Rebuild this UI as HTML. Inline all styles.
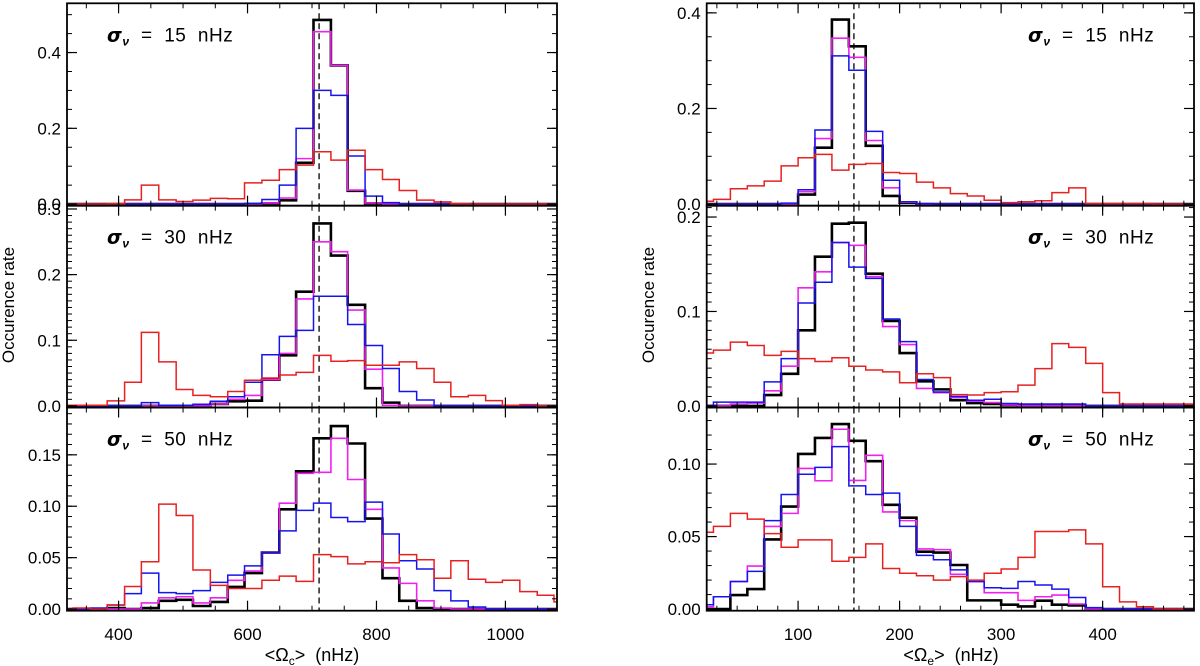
<!DOCTYPE html>
<html><head><meta charset="utf-8"><style>
body{margin:0;background:#fff;}
svg{display:block;font-family:"Liberation Sans",sans-serif;}
</style></head><body>
<svg id="fig" width="1200" height="666" viewBox="0 0 1200 666" xmlns="http://www.w3.org/2000/svg"></svg>
<script>
const leftCenters=[316,343,369,396,422,449,476,502,529,556,582,609,636,662,689,716,742,769,796,822,849,876,902,929,956,982,1009,1036,1062,1089];
const rightCenters=[8.3,25,41.7,58.3,75,91.7,108.3,125,141.7,158.3,175,191.7,208.3,225,241.7,258.3,275,291.7,308.3,325,341.7,358.3,375,391.7,408.3,425,441.7,458.3,475,491.7];
const leftBinWidth=26.67, rightBinWidth=16.67;
const leftRef=711, rightRef=155;
const leftXTicks=[400,600,800,1000];
const rightXTicks=[100,200,300,400];

const tlRed=[0,0,0,0.001,0.011,0.05,0.011,0.007,0.0105,0.015,0.014,0.056,0.063,0.091,0.103,0.138,0.116,0.142,0.091,0.065,0.036,0.0105,0.006,0.001,0,0,0,0,0,0];
const tlBlack=[0,0,0,0,0,0,0,0,0,0,0,0,0.002,0.01,0.109,0.486,0.366,0.035,0.002,0,0,0,0,0,0,0,0,0,0,0];
const tlMagenta=[0,0,0,0,0,0,0,0,0,0,0,0,0.003,0.016,0.12,0.455,0.366,0.037,0.003,0,0,0,0,0,0,0,0,0,0,0];
const tlBlue=[0,0,0,0,0,0,0,0,0,0,0,0.002,0.012,0.05,0.2,0.30,0.287,0.127,0.021,0.004,0,0,0,0,0,0,0,0,0,0];

const mlRed=[0.001,0.001,0.001,0.0076,0.036,0.112,0.067,0.025,0.016,0.014,0.022,0.039,0.0425,0.047,0.051,0.077,0.068,0.069,0.062,0.062,0.067,0.057,0.036,0.014,0.016,0.008,0.001,0.002,0,0];
const mlBlack=[0,0,0,0,0,0,0,0,0,0.003,0.007,0.008,0.04,0.077,0.174,0.278,0.229,0.154,0.027,0.005,0,0,0,0,0,0,0,0,0,0];
const mlMagenta=[0,0,0,0,0,0,0,0,0,0.003,0.01,0.016,0.04,0.08,0.163,0.25,0.235,0.146,0.056,0.001,0,0,0,0,0,0,0,0,0,0];
const mlBlue=[0,0,0,0,0,0.005,0.001,0.001,0.0025,0.007,0.014,0.036,0.078,0.106,0.115,0.167,0.167,0.124,0.092,0.057,0.022,0.009,0,0,0,0,0,0,0,0];

const blRed=[0,0.001,0,0.004,0.022,0.046,0.102,0.091,0.038,0.023,0.020,0.020,0.028,0.032,0.027,0.053,0.051,0.044,0.046,0.045,0.053,0.048,0.030,0.047,0.029,0.026,0.028,0.017,0.0135,0.007];
const blBlack=[0,0,0,0.001,0,0.001,0.008,0.009,0.003,0.007,0.0216,0.035,0.055,0.097,0.134,0.166,0.178,0.161,0.088,0.030,0.008,0.001,0,0,0,0,0,0,0,0];
const blMagenta=[0,0,0,0,0,0.006,0.011,0.012,0.006,0.011,0.028,0.037,0.055,0.103,0.132,0.133,0.166,0.126,0.097,0.040,0.025,0.008,0.001,0,0,0,0,0,0,0];
const blBlue=[0,0,0.001,0.004,0.015,0.035,0.016,0.015,0.018,0.026,0.033,0.042,0.055,0.076,0.096,0.103,0.089,0.085,0.104,0.073,0.047,0.039,0.018,0.008,0.002,0,0,0,0,0];

const trRed=[0.006,0.01,0.032,0.038,0.048,0.08,0.097,0.104,0.071,0.083,0.085,0.066,0.064,0.046,0.034,0.022,0.017,0.008,0.003,0.005,0.007,0.024,0.034,0.001,0.001,0.001,0.001,0,0,0];
const trBlack=[0,0,0,0,0,0,0.02,0.118,0.386,0.33,0.122,0.017,0.003,0,0,0,0,0,0,0,0,0,0,0,0,0,0,0,0,0];
const trMagenta=[0,0,0,0,0,0,0.026,0.137,0.347,0.307,0.133,0.034,0.004,0,0,0,0,0,0,0,0,0,0,0,0,0,0,0,0,0];
const trBlue=[0,0,0,0,0,0.002,0.03,0.155,0.31,0.28,0.152,0.05,0.005,0.001,0,0,0,0,0,0,0,0,0,0,0,0,0,0,0,0];

const mrRed=[0.056,0.059,0.0675,0.064,0.0535,0.0577,0.05,0.047,0.051,0.042,0.038,0.036,0.0245,0.034,0.030,0.012,0.0115,0.014,0.015,0.022,0.0395,0.066,0.062,0.045,0.014,0.002,0.002,0.002,0.002,0.002];
const mrBlack=[0,0,0,0,0.0115,0.034,0.08,0.158,0.193,0.194,0.14,0.09,0.056,0.026,0.0175,0.006,0.003,0.002,0.001,0,0,0,0,0,0,0,0,0,0,0];
const mrMagenta=[0,0,0.002,0.003,0.016,0.042,0.125,0.142,0.173,0.17,0.137,0.084,0.065,0.0185,0.014,0.009,0.005,0.0035,0.001,0,0,0,0,0,0,0,0,0,0,0];
const mrBlue=[0,0.004,0.004,0.004,0.0255,0.05,0.109,0.131,0.173,0.147,0.135,0.092,0.068,0.028,0.0147,0.01,0.006,0.007,0.0025,0.002,0.002,0.002,0.002,0,0,0,0,0,0,0];

const brRed=[0.053,0.057,0.066,0.062,0.052,0.0426,0.0477,0.0477,0.033,0.0357,0.045,0.028,0.0247,0.023,0.020,0.0224,0.020,0.0247,0.0276,0.0357,0.0535,0.0535,0.0546,0.045,0.0154,0.005,0.0016,0,0,0];
const brBlack=[0,0,0.0097,0.0138,0.048,0.0707,0.107,0.118,0.1276,0.116,0.102,0.0719,0.063,0.0396,0.039,0.0304,0.006,0.006,0.003,0.0018,0.0058,0.003,0.0025,0,0,0,0,0,0,0];
const brMagenta=[0.0016,0.0085,0.019,0.0297,0.057,0.066,0.097,0.0885,0.124,0.0887,0.106,0.067,0.061,0.0415,0.041,0.024,0.019,0.0113,0.0113,0.006,0.0085,0.0097,0.0035,0,0,0,0,0,0,0];
const brBlue=[0.003,0.0085,0.019,0.026,0.061,0.079,0.093,0.0977,0.112,0.085,0.079,0.080,0.057,0.037,0.034,0.027,0.019,0.0147,0.0143,0.019,0.0166,0.0138,0.008,0.001,0,0,0,0,0,0];

const tlYTicks=["0.0","0.2","0.4"], mlYTicks=["0.0","0.1","0.2","0.3"], blYTicks=["0.00","0.05","0.10","0.15"];
const trYTicks=["0.0","0.2","0.4"], mrYTicks=["0.0","0.1","0.2"], brYTicks=["0.00","0.05","0.10"];
const sigmaValues=["15","30","50"];

const NS="http://www.w3.org/2000/svg";
const svg=document.getElementById('fig');
function mk(tag,attrs,parent){const e=document.createElementNS(NS,tag);for(const k in attrs)e.setAttribute(k,attrs[k]);(parent||svg).appendChild(e);return e;}

const cols={x0:[67,706.7],x1:[557,1194],xmin:[320,10],xmax:[1080,490]};
const rows=[[3.3,205.7],[205.7,407.5],[407.5,610.7]];
const panels=[
 {c:0,r:0,ymax:0.53,minor:0.05,ticks:tlYTicks,s:[tlBlack,tlMagenta,tlBlue,tlRed],name:'top-left'},
 {c:0,r:1,ymax:0.305,minor:0.01,ticks:mlYTicks,s:[mlBlack,mlMagenta,mlBlue,mlRed],name:'middle-left'},
 {c:0,r:2,ymax:0.196,minor:0.01,ticks:blYTicks,s:[blBlack,blMagenta,blBlue,blRed],name:'bottom-left'},
 {c:1,r:0,ymax:0.42,minor:0.05,ticks:trYTicks,s:[trBlack,trMagenta,trBlue,trRed],name:'top-right'},
 {c:1,r:1,ymax:0.212,minor:0.01,ticks:mrYTicks,s:[mrBlack,mrMagenta,mrBlue,mrRed],name:'middle-right'},
 {c:1,r:2,ymax:0.139,minor:0.01,ticks:brYTicks,s:[brBlack,brMagenta,brBlue,brRed],name:'bottom-right'}
];
const seriesStyle=[{col:'#000',w:2.6,n:'black'},{col:'#f020f0',w:1.6,n:'magenta'},{col:'#1414f0',w:1.5,n:'blue'},{col:'#e82020',w:1.5,n:'red'}];

panels.forEach((p,pi)=>{
  const X0=cols.x0[p.c],X1=cols.x1[p.c],xmin=cols.xmin[p.c],xmax=cols.xmax[p.c];
  const Y0=rows[p.r][0],Y1=rows[p.r][1];
  const ymin=-p.ymax*0.008;
  const sx=v=>X0+(v-xmin)/(xmax-xmin)*(X1-X0);
  const sy=v=>Y1-(v-ymin)/(p.ymax-ymin)*(Y1-Y0);
  const g=mk('g',{});
  
  
  const cp=mk('clipPath',{id:'cp'+pi},g);
  mk('rect',{x:X0,y:Y0,width:X1-X0,height:Y1-Y0},cp);
  const centers=p.c===0?leftCenters:rightCenters, bw=p.c===0?leftBinWidth:rightBinWidth;
  const rx=sx(p.c===0?leftRef:rightRef);
  const dl=mk('line',{x1:rx,x2:rx,y1:Y0,y2:Y1,stroke:'#222','stroke-width':1.5,'stroke-dasharray':'6,4'},g);
  
  
  p.s.forEach((vals,si)=>{
    let d='';
    vals.forEach((v,i)=>{
      const xl=sx(centers[i]-bw/2),xr=sx(centers[i]+bw/2),y=sy(v);
      d+=(i===0?'M'+xl+','+y:'V'+y)+'H'+xr;
    });
    const st=seriesStyle[si];
    const path=mk('path',{d:d,fill:'none',stroke:st.col,'stroke-width':st.w,'clip-path':'url(#cp'+pi+')','stroke-linejoin':'miter'},g);
    
    
  });
  const fr=mk('rect',{x:X0,y:Y0,width:X1-X0,height:Y1-Y0,fill:'none',stroke:'#000','stroke-width':1.8},g);
  
  
  for(let v=0;v<=p.ymax+1e-9;v+=p.minor){
    const y=sy(v);
    mk('line',{x1:X0,x2:X0+5,y1:y,y2:y,stroke:'#000','stroke-width':1},g);
    mk('line',{x1:X1,x2:X1-5,y1:y,y2:y,stroke:'#000','stroke-width':1},g);
  }
  p.ticks.forEach(t=>{
    const y=sy(parseFloat(t));
    mk('line',{x1:X0,x2:X0+10,y1:y,y2:y,stroke:'#000','stroke-width':1.2},g);
    mk('line',{x1:X1,x2:X1-10,y1:y,y2:y,stroke:'#000','stroke-width':1.2},g);
    const tx=mk('text',{x:X0-6,y:y+6,'text-anchor':'end','font-size':17},g);
    tx.textContent=t;
    
    
  });
  const minorStep=p.c===0?50:20;
  for(let v=Math.ceil(xmin/minorStep)*minorStep;v<=xmax;v+=minorStep){
    const x=sx(v);
    mk('line',{x1:x,x2:x,y1:Y1,y2:Y1-5,stroke:'#000','stroke-width':1},g);
    mk('line',{x1:x,x2:x,y1:Y0,y2:Y0+5,stroke:'#000','stroke-width':1},g);
  }
  (p.c===0?leftXTicks:rightXTicks).forEach(t=>{
    const x=sx(t);
    mk('line',{x1:x,x2:x,y1:Y1,y2:Y1-10,stroke:'#000','stroke-width':1.2},g);
    mk('line',{x1:x,x2:x,y1:Y0,y2:Y0+10,stroke:'#000','stroke-width':1.2},g);
    if(p.r===2){
      const tx=mk('text',{x:x,y:640,'text-anchor':'middle','font-size':17},g);
      tx.textContent=t;
      
      
    }
  });
  const lx=p.c===0?107:1028, ly=Y0+38;
  const st=mk('text',{x:lx,y:ly,'font-size':19,'letter-spacing':'0.5'},g);
  
  
  st.setAttribute('style','white-space:pre');
  const s1=mk('tspan',{'font-weight':'bold','font-style':'italic','font-family':'"DejaVu Sans",sans-serif'},st);s1.textContent='σ';
  const s2=mk('tspan',{'font-weight':'bold','font-style':'italic','font-size':12,dy:4},st);s2.textContent='ν';
  const s3=mk('tspan',{dy:-4},st);s3.textContent='  =  '+sigmaValues[p.r]+'  nHz';
});
[[14,305],[654,305]].forEach(([x,y])=>{
  const t=mk('text',{x:x,y:y,'text-anchor':'middle','font-size':17,transform:'rotate(-90 '+x+' '+y+')'});
  t.textContent='Occurence rate';
  
  
});
[[312,'c'],[951,'e']].forEach(([x,sub])=>{
  const t=mk('text',{x:x,y:661,'text-anchor':'middle','font-size':18});
  
  
  t.setAttribute('style','white-space:pre');
  const a=mk('tspan',{},t);a.textContent='<Ω';
  const b=mk('tspan',{'font-size':12,dy:4},t);b.textContent=sub;
  const c=mk('tspan',{dy:-4},t);c.textContent='>  (nHz)';
});
</script>
</body></html>
